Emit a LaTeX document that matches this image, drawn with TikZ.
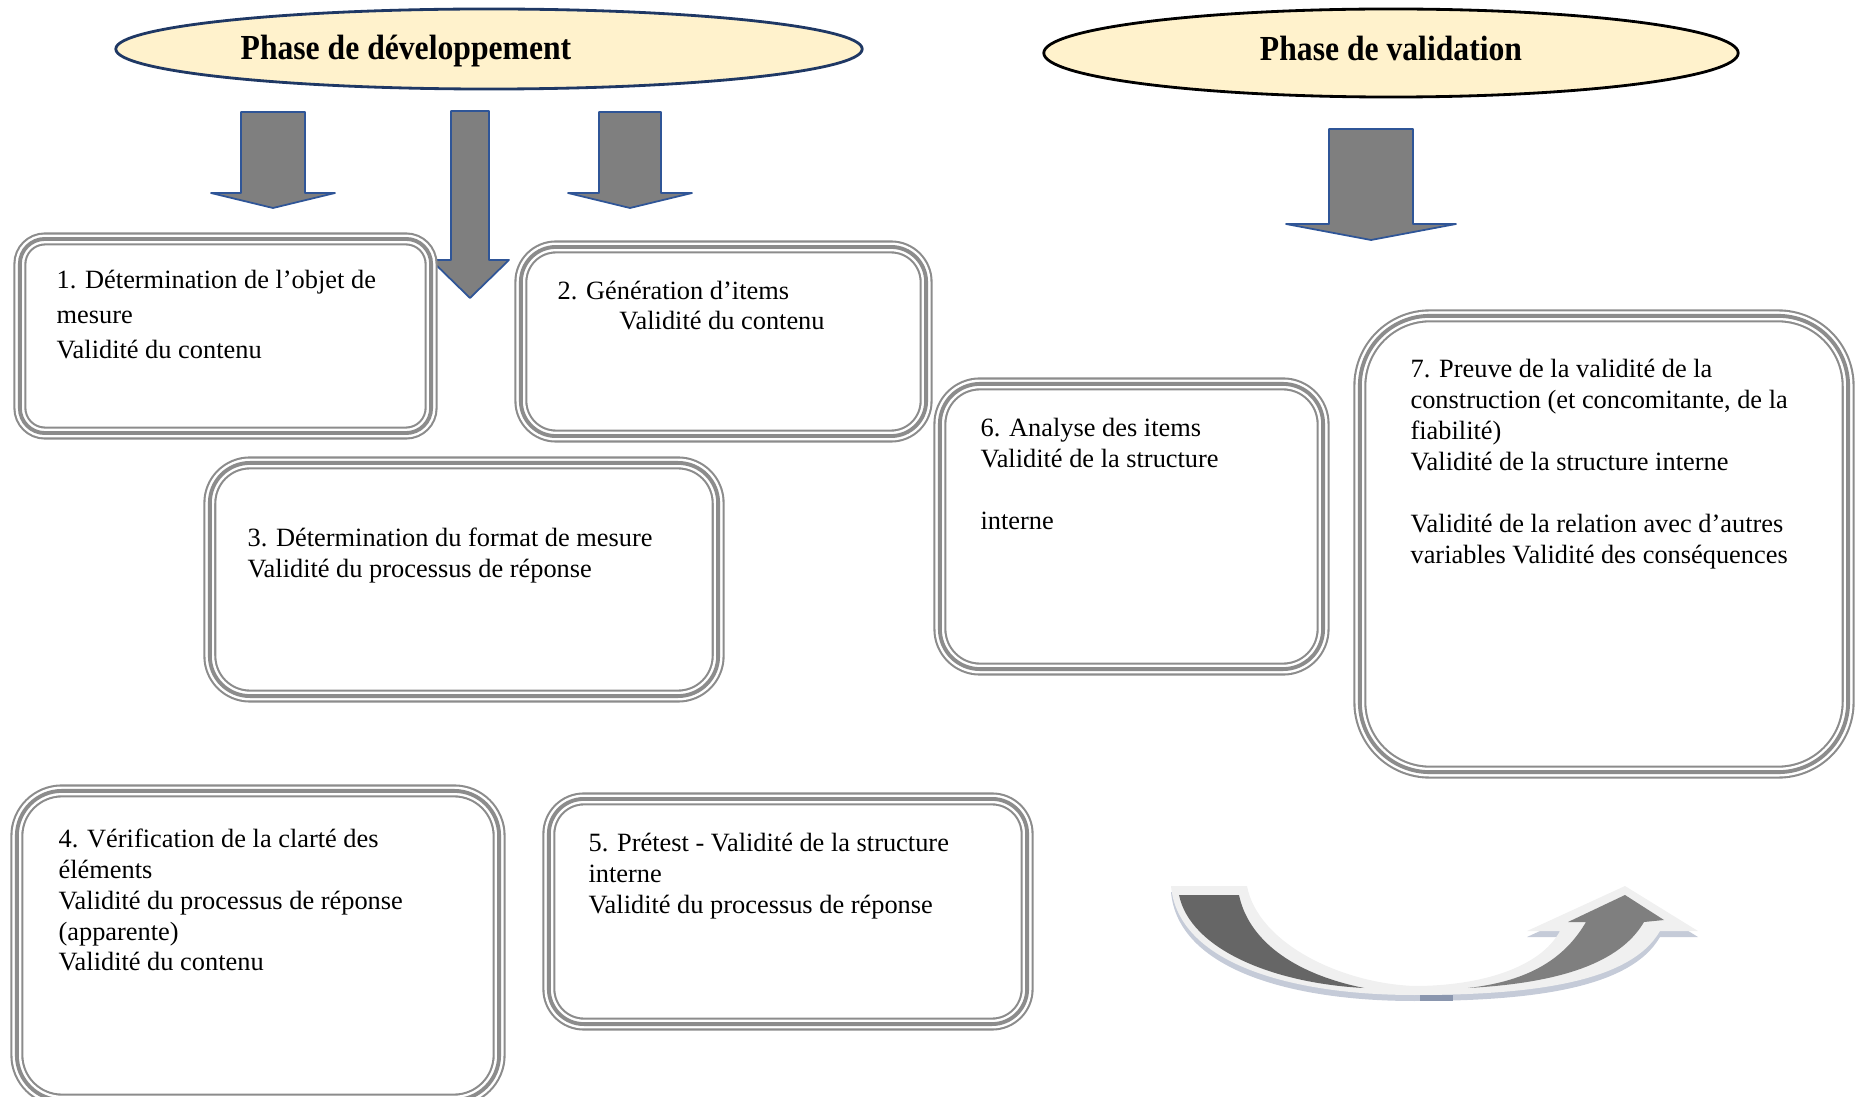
\documentclass[tikz,border=0pt]{standalone}
\usepackage{fontspec}
\setmainfont{Liberation Serif}
\newfontfamily\headfont[FakeStretch=0.9]{Liberation Serif}
\usetikzlibrary{shapes.geometric}
\usetikzlibrary{positioning}
\definecolor{phasefill}{HTML}{FFF2CC}
\definecolor{phaseblue}{HTML}{1F3864}
\definecolor{arrowblue}{HTML}{2F5597}
\definecolor{arrowgray}{HTML}{7F7F7F}
\definecolor{boxgray}{HTML}{8C8C8C}
\definecolor{rimgray}{HTML}{F0F0F0}
\definecolor{shadowblue}{HTML}{C5CBD8}
\definecolor{patchblue}{HTML}{8A96AE}

\tikzset{
  pics/blockarrow/.style args={#1/#2/#3/#4}{code={
    \draw[fill=arrowgray,draw=arrowblue,line width=0.5pt,line join=round] (-#1,0) -- (#1,0) -- (#1,#2) -- (#3,#2) -- (0,#2+#4) -- (-#3,#2) -- (-#1,#2) -- cycle;}},
  stepbox/.style={rectangle,rounded corners=#1,outer sep=0pt,inner sep=0pt,preaction={fill=white,draw=boxgray,line width=3.7pt},preaction={draw=white,line width=2.5pt},draw=boxgray,line width=1.1pt},
  txt/.style={align=left,inner sep=0pt,font=\fontsize{7.5}{8.8}\selectfont},
  phase/.style={ellipse,draw=#1,fill=phasefill,line width=0.8pt,inner sep=0pt},
  headtxt/.style={inner sep=0pt,font=\headfont\bfseries\fontsize{10}{12}\selectfont}
}

\begin{document}
\begin{tikzpicture}[x=0.01cm,y=-0.01cm]
  \useasboundingbox (0,0) rectangle (1856,1097);
  %phases
  \node[phase=phaseblue,minimum width=7.46cm,minimum height=0.8cm] (dev) at (489,49) {};
  \node[headtxt] (devtxt) at ([xshift=-0.83cm,yshift=-0.02cm]dev.center) {Phase de d\'eveloppement};
  \node[phase=black,minimum width=6.94cm,minimum height=0.88cm] (val) at (1391,53) {};
  \node[headtxt] (valtxt) at ([yshift=0.05cm]val.center) {Phase de validation};
  %block arrows
  \pic at (273,112) {blockarrow=32/81/62/15};
  \pic at (470,111) {blockarrow=19/149/39/38};
  \pic at (630,112) {blockarrow=31/81/62/15};
  \pic at (1371,129) {blockarrow=42/95/85/16};
  %development boxes
  \node[stepbox=0.25cm,minimum width=4.11cm,minimum height=1.94cm] (box1) at (225.5,336) {};
  \node[txt,font=\fontsize{7.5}{10}\selectfont,below right=0.30cm and 0.36cm of box1.north west] (txt1) {1. D\'etermination de l'objet de\\mesure\\Validit\'e du contenu};
  \node[stepbox=0.35cm,minimum width=4.05cm,minimum height=1.89cm] (box2) at (723.5,341.5) {};
  \node[txt,below right=0.33cm and 0.36cm of box2.north west] (txt2) {2. G\'en\'eration d'items\\\hspace*{17.6pt}Validit\'e du contenu};
  \node[stepbox=0.4cm,minimum width=5.08cm,minimum height=2.33cm] (box3) at (464,579.5) {};
  \node[txt,below right=0.64cm and 0.37cm of box3.north west] (txt3) {3. D\'etermination du format de mesure\\Validit\'e du processus de r\'eponse};
  \node[stepbox=0.45cm,minimum width=4.82cm,minimum height=3.09cm] (box4) at (258,945.5) {};
  \node[txt,below right=0.37cm and 0.41cm of box4.north west] (txt4) {4. V\'erification de la clart\'e des\\\'el\'ements\\Validit\'e du processus de r\'eponse\\(apparente)\\Validit\'e du contenu};
  \node[stepbox=0.35cm,minimum width=4.78cm,minimum height=2.25cm] (box5) at (788,911.5) {};
  \node[txt,below right=0.34cm and 0.39cm of box5.north west] (txt5) {5. Pr\'etest - Validit\'e de la structure\\interne\\Validit\'e du processus de r\'eponse};
  %validation boxes
  \node[stepbox=0.4cm,minimum width=3.83cm,minimum height=2.85cm] (box6) at (1131.5,526.5) {};
  \node[txt,below right=0.34cm and 0.40cm of box6.north west] (txt6) {6. Analyse des items\\Validit\'e de la structure\\[8.8pt]interne};
  \node[stepbox=0.7cm,minimum width=4.88cm,minimum height=4.56cm] (box7) at (1604,544) {};
  \node[txt,below right=0.43cm and 0.50cm of box7.north west] (txt7) {7. Preuve de la validit\'e de la\\construction (et concomitante, de la\\fiabilit\'e)\\Validit\'e de la structure interne\\[8.8pt]Validit\'e de la relation avec d'autres\\variables Validit\'e des cons\'equences};
  %curved arrow
  \fill[shadowblue,shift={(0,6)}] (1171,886) -- (1247,886) .. controls (1258,943) and (1340,983) .. (1414,986) .. controls (1480,986) and (1540,968) .. (1560,931) -- (1527,931) -- (1625,886) -- (1698,931) -- (1660,931) .. controls (1630,983) and (1530,995) .. (1414,995) .. controls (1290,995) and (1178,963) .. (1171,886) -- cycle;
  \fill[patchblue] (1420,995) rectangle (1453,1001);
  \fill[rimgray] (1171,886) -- (1247,886) .. controls (1258,943) and (1340,983) .. (1414,986) .. controls (1480,986) and (1540,968) .. (1560,931) -- (1527,931) -- (1625,886) -- (1698,931) -- (1660,931) .. controls (1630,983) and (1530,995) .. (1414,995) .. controls (1290,995) and (1178,963) .. (1171,886) -- cycle;
  \fill[black!60] (1179,895) -- (1239,895) .. controls (1248,938) and (1290,973) .. (1364,988) .. controls (1270,983) and (1190,948) .. (1179,895) -- cycle;
  \fill[arrowgray] (1468,988) .. controls (1530,981) and (1565,958) .. (1586,922) -- (1568,922) -- (1625,895) -- (1664,920) -- (1644,922) .. controls (1620,963) and (1560,983) .. (1468,988) -- cycle;
\end{tikzpicture}
\end{document}
